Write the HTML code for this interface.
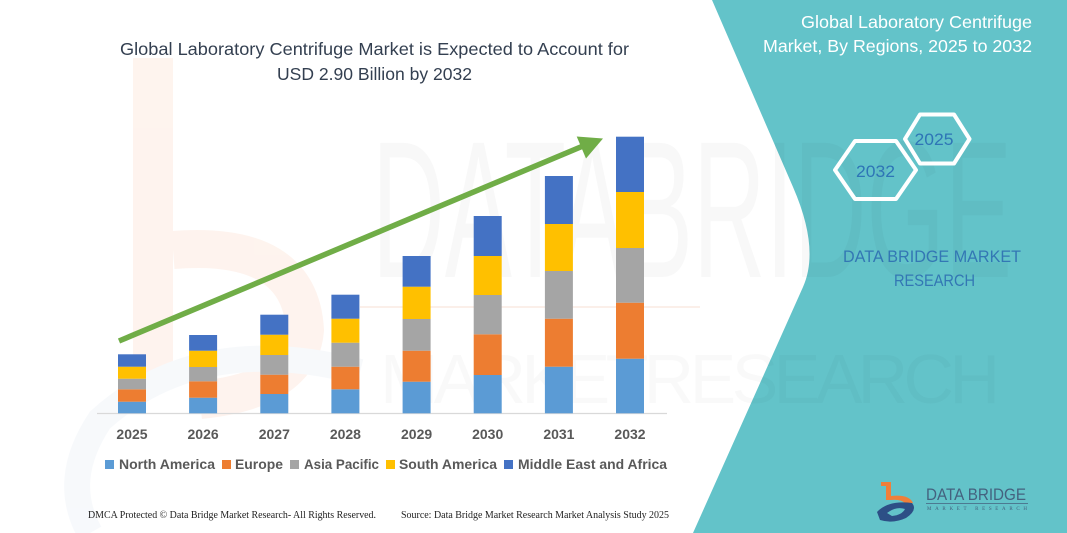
<!DOCTYPE html>
<html>
<head>
<meta charset="utf-8">
<style>
html,body{margin:0;padding:0;background:#fff;}
svg{display:block;}
</style>
</head>
<body>
<svg width="1067" height="533" viewBox="0 0 1067 533" xmlns="http://www.w3.org/2000/svg">
  <rect x="0" y="0" width="1067" height="533" fill="#ffffff"/>

  <!-- faint watermark logo (left) -->
  <g opacity="0.45">
    <rect x="133" y="58" width="40" height="330" fill="#fde6da"/>
    <path d="M173,250 Q300,240 305,330 Q300,390 200,400" fill="none" stroke="#fde6da" stroke-width="38"/>
    <path d="M360,372 Q200,330 100,420 Q60,480 90,533" fill="none" stroke="#eef2f8" stroke-width="26"/>
  </g>

  <!-- teal panel -->
  <path d="M712,0 L793,187 Q820,249 803,287 L693,533 L1067,533 L1067,0 Z" fill="#63c3c9"/>

  <!-- faint watermark text -->
  <text x="372" y="277" font-family="Liberation Sans, sans-serif" font-size="195" textLength="640" lengthAdjust="spacingAndGlyphs" fill="#000" opacity="0.025">DATABRIDGE</text>
  <line x1="360" y1="307" x2="700" y2="307" stroke="#f7d9c9" stroke-width="2" opacity="0.4"/>
  <text x="380" y="403" font-family="Liberation Sans, sans-serif" font-size="70" textLength="620" lengthAdjust="spacing" fill="#000" opacity="0.018">MARKETRESEARCH</text>

  <!-- Title -->
  <text x="374.5" y="55" text-anchor="middle" font-family="Liberation Sans, sans-serif" font-size="17.5" fill="#333f50" textLength="509" lengthAdjust="spacingAndGlyphs">Global Laboratory Centrifuge Market is Expected to Account for</text>
  <text x="374.5" y="80" text-anchor="middle" font-family="Liberation Sans, sans-serif" font-size="17.5" fill="#333f50" textLength="195" lengthAdjust="spacingAndGlyphs">USD 2.90 Billion by 2032</text>

  <!-- axis -->
  <line x1="97" y1="413.5" x2="667" y2="413.5" stroke="#d9d9d9" stroke-width="1.2"/>

  <!-- bars -->
  <g>
    <rect x="118" y="401.7" width="28" height="11.6" fill="#5b9bd5"/>
    <rect x="118" y="389.3" width="28" height="12.4" fill="#ed7d31"/>
    <rect x="118" y="378.7" width="28" height="10.6" fill="#a5a5a5"/>
    <rect x="118" y="366.7" width="28" height="12" fill="#ffc000"/>
    <rect x="118" y="354.3" width="28" height="12.4" fill="#4472c4"/>

    <rect x="189.1" y="397.7" width="28" height="15.6" fill="#5b9bd5"/>
    <rect x="189.1" y="381.3" width="28" height="16.4" fill="#ed7d31"/>
    <rect x="189.1" y="367" width="28" height="14.3" fill="#a5a5a5"/>
    <rect x="189.1" y="350.7" width="28" height="16.3" fill="#ffc000"/>
    <rect x="189.1" y="335" width="28" height="15.7" fill="#4472c4"/>

    <rect x="260.3" y="394" width="28" height="19.3" fill="#5b9bd5"/>
    <rect x="260.3" y="374.7" width="28" height="19.3" fill="#ed7d31"/>
    <rect x="260.3" y="355" width="28" height="19.7" fill="#a5a5a5"/>
    <rect x="260.3" y="334.7" width="28" height="20.3" fill="#ffc000"/>
    <rect x="260.3" y="314.7" width="28" height="20" fill="#4472c4"/>

    <rect x="331.4" y="389.3" width="28" height="24" fill="#5b9bd5"/>
    <rect x="331.4" y="366.7" width="28" height="22.6" fill="#ed7d31"/>
    <rect x="331.4" y="342.7" width="28" height="24" fill="#a5a5a5"/>
    <rect x="331.4" y="318.7" width="28" height="24" fill="#ffc000"/>
    <rect x="331.4" y="294.7" width="28" height="24" fill="#4472c4"/>

    <rect x="402.6" y="381.7" width="28" height="31.6" fill="#5b9bd5"/>
    <rect x="402.6" y="350.7" width="28" height="31" fill="#ed7d31"/>
    <rect x="402.6" y="319" width="28" height="31.7" fill="#a5a5a5"/>
    <rect x="402.6" y="286.7" width="28" height="32.3" fill="#ffc000"/>
    <rect x="402.6" y="256" width="28" height="30.7" fill="#4472c4"/>

    <rect x="473.7" y="375" width="28" height="38.3" fill="#5b9bd5"/>
    <rect x="473.7" y="334.3" width="28" height="40.7" fill="#ed7d31"/>
    <rect x="473.7" y="295" width="28" height="39.3" fill="#a5a5a5"/>
    <rect x="473.7" y="256" width="28" height="39" fill="#ffc000"/>
    <rect x="473.7" y="216" width="28" height="40" fill="#4472c4"/>

    <rect x="544.9" y="366.7" width="28" height="46.6" fill="#5b9bd5"/>
    <rect x="544.9" y="318.7" width="28" height="48" fill="#ed7d31"/>
    <rect x="544.9" y="271" width="28" height="47.7" fill="#a5a5a5"/>
    <rect x="544.9" y="224" width="28" height="47" fill="#ffc000"/>
    <rect x="544.9" y="176" width="28" height="48" fill="#4472c4"/>

    <rect x="616" y="358.7" width="28" height="54.6" fill="#5b9bd5"/>
    <rect x="616" y="302.7" width="28" height="56" fill="#ed7d31"/>
    <rect x="616" y="248" width="28" height="54.7" fill="#a5a5a5"/>
    <rect x="616" y="192" width="28" height="56" fill="#ffc000"/>
    <rect x="616" y="136.7" width="28" height="55.3" fill="#4472c4"/>
  </g>

  <!-- arrow -->
  <line x1="119" y1="341" x2="583" y2="146" stroke="#70ad47" stroke-width="5.5"/>
  <polygon points="603,138.5 576.7,136.5 586,158.5" fill="#70ad47"/>

  <!-- year labels -->
  <g font-family="Liberation Sans, sans-serif" font-size="14" font-weight="bold" fill="#595959" text-anchor="middle">
    <text x="132" y="439">2025</text>
    <text x="203.1" y="439">2026</text>
    <text x="274.3" y="439">2027</text>
    <text x="345.4" y="439">2028</text>
    <text x="416.6" y="439">2029</text>
    <text x="487.7" y="439">2030</text>
    <text x="558.9" y="439">2031</text>
    <text x="630" y="439">2032</text>
  </g>

  <!-- legend -->
  <g font-family="Liberation Sans, sans-serif" font-size="14" font-weight="bold" fill="#595959">
    <rect x="105" y="460" width="9" height="9" fill="#5b9bd5"/>
    <text x="119" y="469" textLength="96" lengthAdjust="spacingAndGlyphs">North America</text>
    <rect x="222" y="460" width="9" height="9" fill="#ed7d31"/>
    <text x="235" y="469" textLength="48" lengthAdjust="spacingAndGlyphs">Europe</text>
    <rect x="290" y="460" width="9" height="9" fill="#a5a5a5"/>
    <text x="304" y="469" textLength="75" lengthAdjust="spacingAndGlyphs">Asia Pacific</text>
    <rect x="386" y="460" width="9" height="9" fill="#ffc000"/>
    <text x="399" y="469" textLength="98" lengthAdjust="spacingAndGlyphs">South America</text>
    <rect x="504" y="460" width="9" height="9" fill="#4472c4"/>
    <text x="518" y="469" textLength="149" lengthAdjust="spacingAndGlyphs">Middle East and Africa</text>
  </g>

  <!-- footer -->
  <g font-family="Liberation Serif, serif" font-size="10" fill="#222">
    <text x="88" y="518" textLength="288" lengthAdjust="spacingAndGlyphs">DMCA Protected © Data Bridge Market Research- All Rights Reserved.</text>
    <text x="401" y="518" textLength="268" lengthAdjust="spacingAndGlyphs">Source: Data Bridge Market Research Market Analysis Study 2025</text>
  </g>

  <!-- right panel title -->
  <g font-family="Liberation Sans, sans-serif" font-size="17.5" fill="#ffffff" text-anchor="end">
    <text x="1032" y="28" textLength="231" lengthAdjust="spacingAndGlyphs">Global Laboratory Centrifuge</text>
    <text x="1032" y="52" textLength="269" lengthAdjust="spacingAndGlyphs">Market, By Regions, 2025 to 2032</text>
  </g>

  <!-- hexagons -->
  <g fill="none" stroke="#ffffff" stroke-width="4" stroke-linejoin="round">
    <polygon points="835,170 855,141 896,141 916,170 896,199 855,199"/>
    <polygon points="905,139 920,114.5 954,114.5 969.5,139 954,163.5 920,163.5"/>
  </g>
  <g font-family="Liberation Sans, sans-serif" font-size="16.5" fill="#2e75b6" text-anchor="middle">
    <text x="875.5" y="177" textLength="39" lengthAdjust="spacingAndGlyphs">2032</text>
    <text x="934" y="145" textLength="39" lengthAdjust="spacingAndGlyphs">2025</text>
  </g>

  <!-- DATA BRIDGE MARKET RESEARCH -->
  <g font-family="Liberation Sans, sans-serif" font-size="17" fill="#3377b4" text-anchor="middle">
    <text x="932" y="262" textLength="178" lengthAdjust="spacingAndGlyphs">DATA BRIDGE MARKET</text>
    <text x="934.5" y="286" textLength="81" lengthAdjust="spacingAndGlyphs">RESEARCH</text>
  </g>

  <!-- bottom logo -->
  <g>
    <path d="M881,482 L891,482 L891,496 Q909,494 913,503 L905,503 Q900,499 891,500 L886,500 L886,486 L881,486 Z" fill="#f07f3a"/>
    <path d="M877,512 Q888,500 912,503 Q918,510 906,518 Q893,524 880,520 Z" fill="#2d4f86"/>
    <path d="M887,513 Q896,506 905,509 Q902,515 892,516 Z" fill="#63c3c9"/>
    <text x="926" y="500" font-family="Liberation Sans, sans-serif" font-size="17" fill="#44627f" textLength="100" lengthAdjust="spacingAndGlyphs">DATA BRIDGE</text>
    <line x1="926" y1="503.5" x2="1028" y2="503.5" stroke="#44627f" stroke-width="0.8"/>
    <text x="927" y="510" font-family="Liberation Serif, serif" font-size="5" fill="#44627f" textLength="100" lengthAdjust="spacing">MARKET RESEARCH</text>
  </g>
</svg>
</body>
</html>
